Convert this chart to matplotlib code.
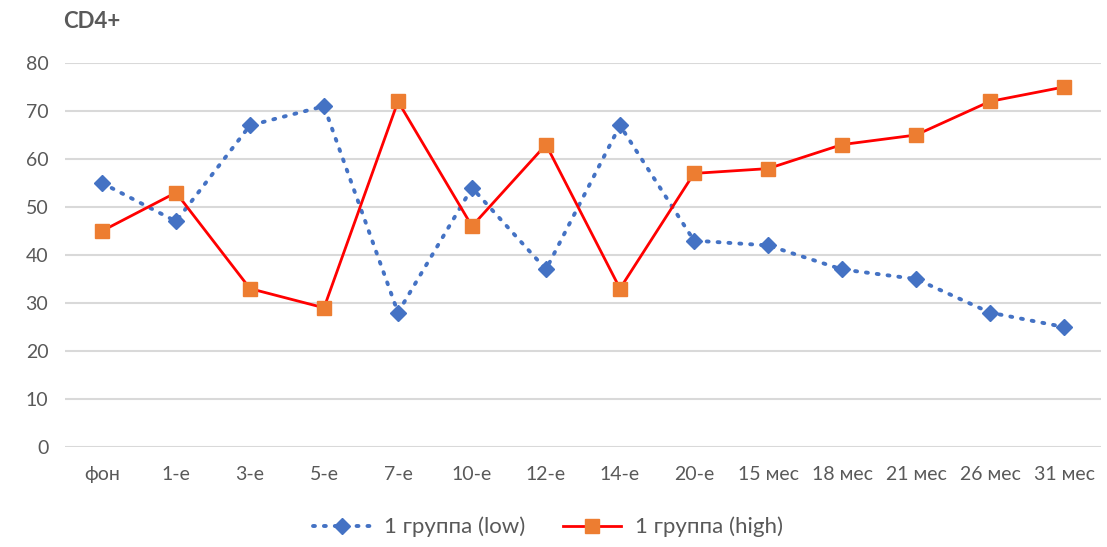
import matplotlib.pyplot as plt

categories = ["фон", "1-е", "3-е", "5-е", "7-е", "10-е", "12-е", "14-е", "20-е",
              "15 мес", "18 мес", "21 мес", "26 мес", "31 мес"]
low = [55, 47, 67, 71, 28, 54, 37, 67, 43, 42, 37, 35, 28, 25]
high = [45, 53, 33, 29, 72, 46, 63, 33, 57, 58, 63, 65, 72, 75]

plt.rcParams['font.family'] = ['Lato', 'DejaVu Sans']
text_color = '#595959'

fig = plt.figure(figsize=(11.07, 5.47), dpi=100)
ax = fig.add_axes([65 / 1107, 1 - 447 / 547, 1036 / 1107, 384 / 547])

x = range(len(categories))
ax.plot(x, low, color='#4472C4', linestyle=(0, (0.5, 2.3)), linewidth=2.8,
        dash_capstyle='round',
        marker='D', markersize=8, markerfacecolor='#4472C4', markeredgecolor='#4472C4',
        label='1 группа (low)')
ax.plot(x, high, color='#FF0000', linestyle='-', linewidth=2,
        marker='s', markersize=10, markerfacecolor='#ED7D31', markeredgecolor='#ED7D31',
        label='1 группа (high)')

ax.set_xlim(-0.5, len(categories) - 0.5)
ax.set_ylim(0, 80)
ax.set_yticks(range(0, 81, 10))
ax.set_xticks(list(x))
ax.set_xticklabels(categories)
ax.grid(axis='y', color='#D9D9D9', linewidth=1.5)
ax.set_axisbelow(True)
for s in ax.spines.values():
    s.set_visible(False)
ax.tick_params(length=0, labelsize=14, colors=text_color, pad=14)
ax.tick_params(axis='y', pad=12)

fig.text(63 / 1107, 1 - 22 / 547, "CD4+", fontsize=16, fontweight='bold',
         color=text_color, va='center', ha='left')

leg = fig.legend(loc='center', bbox_to_anchor=(0.495, 1 - 527 / 547), ncol=2,
                 frameon=False, fontsize=16, handlelength=2.6, handletextpad=0.6,
                 columnspacing=1.7)
for t in leg.get_texts():
    t.set_color(text_color)

fig.savefig("out.png", dpi=100)
